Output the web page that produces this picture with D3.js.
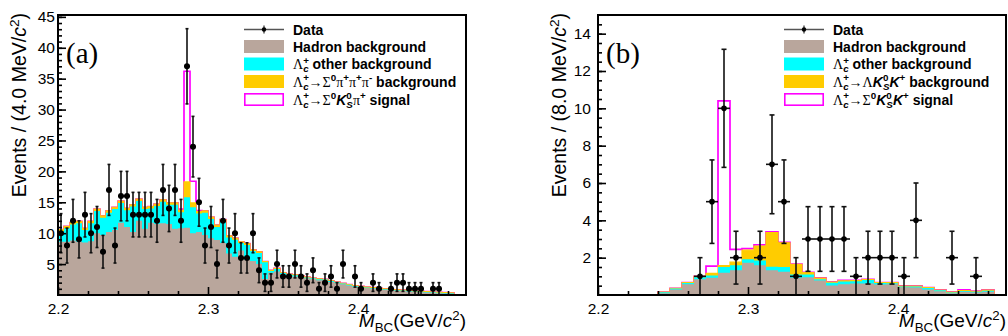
<!DOCTYPE html>
<html>
<head>
<meta charset="utf-8">
<script src="https://cdn.jsdelivr.net/npm/d3@7"></script>
<style>
  body { margin: 0; background: #fff; }
  svg { display: block; }
</style>
</head>
<body>
<svg id="chart" width="1008" height="336"></svg>
<script>
// ---- panel (a): 68 bins of 4 MeV, 2.200 - 2.472 GeV
const dataA = [10, 8, 12, 9, 13, 10, 11, 7, 17, 8, 16, 16, 13, 13, 13, 13, 12, 17, 14, 17,
  12, 37, 24, 15, 8, 11, 5, 12, 8, 10, 6, 6, 10, 4, 2, 2, 5, 3, 3, 5,
  3, 2, 4, 1, 2, 3, 1, 5, 0, 3, 1, 0, 2, 1, 0, 1, 2, 2, 1, 1,
  1, 0, 1, 1, 0, 0, 0, 0];
const hadronA = [8.6, 8.6, 8.8, 8.6, 8.5, 8.7, 10.0, 9.7, 10.2, 10.5, 11.7, 11.0, 10.2, 12.0, 10.7, 11.7, 11.5, 11.6, 11.5, 10.7,
  10.8, 10.9, 10.0, 10.2, 9.7, 9.2, 8.9, 8.4, 6.7, 6.2, 7.2, 5.7, 5.5, 5.0, 2.6, 3.6, 3.8, 3.3, 3.1, 3.0,
  2.9, 2.7, 2.6, 2.4, 2.4, 2.1, 1.95, 1.75, 1.55, 1.35, 1.25, 1.15, 1.05, 0.95, 0.85, 0.75, 0.7, 0.65, 0.55, 0.5,
  0.45, 0.4, 0.35, 0.3, 0.25, 0.2, 0, 0];
const otherA = [1.7, 2.2, 2.6, 3.0, 2.0, 2.9, 3.6, 2.8, 3.1, 3.4, 3.2, 2.7, 4.1, 3.2, 3.2, 2.3, 2.9, 3.5, 3.1, 3.9,
  2.6, 4.9, 4.2, 3.0, 3.6, 3.1, 2.1, 3.5, 2.6, 2.75, 1.2, 2.4, 1.6, 1.8, 2.7, 0.3, 0.4, 0.25, 0.25, 0.2,
  0.15, 0.15, 0.1, 0.15, 0.1, 0.15, 0.1, 0.1, 0.1, 0.1, 0.08, 0.08, 0.08, 0.08, 0.08, 0.08, 0.08, 0.08, 0.08, 0.08,
  0.08, 0.08, 0.08, 0.08, 0.08, 0.08, 0, 0];
const peakA = [0.3, 0.3, 0.3, 0.3, 0.3, 0.3, 0.3, 0.3, 0.3, 0.3, 0.3, 0.3, 0.3, 0.3, 0.3, 0.3, 0.3, 0.3, 0.3, 0.3,
  0.3, 2.5, 0.7, 0.3, 0.3, 0.3, 0.3, 0.3, 0.25, 0.25, 0.2, 0.2, 0.2, 0.2, 0.1, 0.1, 0.1, 0.05, 0.05, 0.05,
  0.05, 0.05, 0.05, 0.05, 0.05, 0.05, 0.05, 0.05, 0.05, 0.05, 0.05, 0.05, 0.05, 0.05, 0.05, 0.05, 0.05, 0.05, 0.05, 0.05,
  0.05, 0.05, 0.05, 0.05, 0.05, 0.05, 0, 0];
const signalA = [0, 0, 0, 0, 0, 0, 0, 0, 0, 0, 0, 0, 0, 0, 0, 0, 0, 0, 0, 0,
  0.2, 17.9, 3.5, 0.15, 0, 0, 0, 0, 0, 0, 0, 0, 0, 0, 0, 0, 0, 0, 0, 0,
  0, 0, 0, 0, 0, 0, 0, 0, 0, 0, 0, 0, 0, 0, 0, 0, 0, 0, 0, 0,
  0, 0, 0, 0, 0, 0, 0, 0];

// ---- panel (b): 34 bins of 8 MeV, 2.200 - 2.472 GeV
const dataB = [0, 0, 0, 0, 0, 0, 0, 0, 1, 5, 10, 2, 0, 2, 7, 5, 1, 3, 3, 3,
  3, 1, 2, 2, 2, 1, 4, 0, 0, 2, 0, 1, 0, 0];
const hadronB = [0, 0, 0, 0, 0, 0.1, 0.3, 0.57, 0.85, 0.92, 1.19, 1.33, 1.73, 1.6, 1.33, 1.25, 0.93, 0.95, 0.78, 0.51,
  0.57, 0.62, 0.62, 0.56, 0.58, 0.42, 0.4, 0.3, 0.2, 0.1, 0.18, 0.14, 0.18, 0];
const otherB = [0, 0, 0, 0, 0, 0.05, 0.05, 0.07, 0.1, 0.13, 0.31, 0.27, 0.19, 0.25, 0.19, 0.25, 0.17, 0.15, 0.07, 0.15,
  0.15, 0.12, 0.18, 0.08, 0.05, 0.04, 0.06, 0.07, 0.05, 0.04, 0.04, 0.04, 0.05, 0];
const peakB = [0, 0, 0, 0, 0, 0, 0.01, 0.02, 0.05, 0.11, 0.08, 0.16, 0.48, 0.77, 1.82, 1.3, 0.54, 0.1, 0.05, 0.03,
  0.04, 0.03, 0.03, 0.02, 0.03, 0.02, 0.02, 0.02, 0.01, 0.02, 0.02, 0.02, 0.03, 0];
const signalB = [0, 0, 0, 0, 0, 0, 0, 0, 0, 0.39, 8.82, 0.68, 0.08, 0.06, 0.04, 0.02, 0.02, 0.02, 0.02, 0.01,
  0.02, 0.01, 0.01, 0.01, 0.01, 0.01, 0.01, 0.01, 0.01, 0.01, 0.03, 0.01, 0.01, 0];

const xTicks = [2.2, 2.3, 2.4];
const xMinor = [2.22, 2.24, 2.26, 2.28, 2.32, 2.34, 2.36, 2.38, 2.42, 2.44, 2.46];
const yTicksA = [5, 10, 15, 20, 25, 30, 35, 40, 45];
const yTicksB = [2, 4, 6, 8, 10, 12, 14];

// legend labels: [text, flags]  g=greek serif, b=bold, i=italic, ^=sup, _=sub, <=stack under previous
const legendA = [
  [['Data', 'b']],
  [['Hadron background', 'b']],
  [['Λ', 'g'], ['+', '^b'], ['c', '_<bi'], [' other background', 'b']],
  [['Λ', 'g'], ['+', '^b'], ['c', '_<bi'], ['→Σ', 'g'], ['0', '^b'], ['π', 'g'], ['+', '^b'], ['π', 'g'], ['+', '^b'],
    ['π', 'g'], ['-', '^b'], [' background', 'b']],
  [['Λ', 'g'], ['+', '^b'], ['c', '_<bi'], ['→Σ', 'g'], ['0', '^b'], ['K', 'bi'], ['0', '^b'], ['S', '_<bi'],
    ['π', 'g'], ['+', '^b'], [' signal', 'b']]
];
const legendB = [
  [['Data', 'b']],
  [['Hadron background', 'b']],
  [['Λ', 'g'], ['+', '^b'], ['c', '_<bi'], [' other background', 'b']],
  [['Λ', 'g'], ['+', '^b'], ['c', '_<bi'], ['→Λ', 'g'], ['K', 'bi'], ['0', '^b'], ['S', '_<bi'], ['K', 'bi'], ['+', '^b'],
    [' background', 'b']],
  [['Λ', 'g'], ['+', '^b'], ['c', '_<bi'], ['→Σ', 'g'], ['0', '^b'], ['K', 'bi'], ['0', '^b'], ['S', '_<bi'],
    ['K', 'bi'], ['+', '^b'], [' signal', 'b']]
];

const SANS = "'Liberation Sans', Arial, Helvetica, sans-serif";
const SERIF = "'Liberation Serif', 'DejaVu Serif', serif";
const BROWN = '#b9a69c', CYAN = '#00ffff', ORANGE = '#ffcc00', MAG = '#ff00ff';

const svg = d3.select('#chart');

function rich(sel, x, y, segs, size) {
  const t = sel.append('text').attr('x', x).attr('y', y).attr('font-size', size)
    .attr('font-family', SANS).attr('fill', '#000');
  let shift = 0, prev = null;
  segs.forEach(([s, f]) => {
    const sub = f.includes('_'), sup = f.includes('^');
    const off = sub ? 0.24 * size : sup ? -0.36 * size : 0;
    const sp = t.append('tspan').text(s).attr('dy', off - shift);
    shift = off;
    if (f.includes('<') && prev) sp.attr('dx', -prev.node().getComputedTextLength());
    sp.attr('font-size', (sub || sup) ? 0.7 * size : size)
      .attr('font-family', f.includes('g') ? SERIF : SANS)
      .attr('font-weight', f.includes('b') ? 'bold' : 'normal')
      .attr('font-style', f.includes('i') ? 'italic' : 'normal');
    prev = sp;
  });
  return t;
}

function panel(o) {
  const x = d3.scaleLinear().domain([2.2, 2.472]).range([o.left, o.left + 408]);
  const y = d3.scaleLinear().domain([0, o.ymax]).range([295, 15]);
  const g = svg.append('g');
  const n = o.data.length, w = 0.272 / n;
  const edges = d3.range(n + 1).map(i => 2.2 + i * w);

  // stacked histogram
  const c1 = o.hadron;
  const c2 = c1.map((v, i) => v + o.other[i]);
  const c3 = c2.map((v, i) => v + o.peak[i]);
  const c4 = c3.map((v, i) => v + o.signal[i]);
  const pts = arr => edges.map((e, i) => [e, arr[Math.min(i, n - 1)]]);
  const area = d3.area().x(d => x(d[0])).y0(y(0)).y1(d => y(d[1])).curve(d3.curveStepAfter);
  const line = d3.line().x(d => x(d[0])).y(d => y(d[1])).curve(d3.curveStepAfter);

  g.append('path').attr('d', line(pts(c4))).attr('fill', 'none')
    .attr('stroke', MAG).attr('stroke-width', 1.7);
  // top fill gets a thin rim of its own colour so the signal outline only peeks out where signal > 0
  g.append('path').attr('d', area(pts(c3))).attr('fill', ORANGE)
    .attr('stroke', ORANGE).attr('stroke-width', 1.2);
  [[c2, CYAN], [c1, BROWN]].forEach(([a, col]) => {
    g.append('path').attr('d', area(pts(a))).attr('fill', col);
  });

  // data points
  const pg = g.append('g').attr('stroke', '#111').attr('stroke-width', 1.6);
  o.data.forEach((v, i) => {
    if (!v) return;
    const cx = x(edges[i] + w / 2), e = Math.sqrt(v);
    pg.append('line').attr('x1', cx).attr('x2', cx).attr('y1', y(v + e)).attr('y2', y(Math.max(0, v - e)));
    pg.append('line').attr('x1', x(edges[i])).attr('x2', x(edges[i + 1])).attr('y1', y(v)).attr('y2', y(v));
    [v + e, v - e].forEach(yy => {
      if (yy <= 0) return;
      pg.append('line').attr('x1', cx - o.cap).attr('x2', cx + o.cap).attr('y1', y(yy)).attr('y2', y(yy));
    });
    pg.append('circle').attr('cx', cx).attr('cy', y(v)).attr('r', o.r).attr('fill', '#000').attr('stroke', 'none');
  });

  // axes (ticks pointing inside)
  const styleAxis = a => {
    a.select('.domain').remove();
    a.selectAll('line').attr('stroke', '#000').attr('stroke-width', 1.6);
    a.selectAll('text').attr('font-family', SANS).attr('font-size', 15.5).attr('fill', '#000');
  };
  g.append('g').attr('transform', 'translate(0,295)')
    .call(d3.axisBottom(x).tickValues(xTicks).tickSize(-8).tickPadding(8).tickFormat(d3.format('.1f')))
    .call(styleAxis);
  g.append('g').attr('transform', 'translate(0,295)')
    .call(d3.axisBottom(x).tickValues(xMinor).tickSize(-4).tickFormat(''))
    .call(styleAxis);
  g.append('g').attr('transform', `translate(${o.left},0)`)
    .call(d3.axisLeft(y).tickValues(o.yTicks).tickSize(-8).tickPadding(o.ypad))
    .call(styleAxis);
  g.append('g').attr('transform', `translate(${o.left},0)`)
    .call(d3.axisLeft(y).tickValues(d3.range(o.minorStep, o.ymax, o.minorStep)).tickSize(-4).tickFormat(''))
    .call(styleAxis);

  // frame
  g.append('rect').attr('x', o.left).attr('y', 15).attr('width', 408).attr('height', 280)
    .attr('fill', 'none').attr('stroke', '#000').attr('stroke-width', 2);

  // panel label
  g.append('text').attr('x', o.left + 8).attr('y', 63).attr('font-family', SERIF)
    .attr('font-size', 29).text(o.tag);

  // axis titles
  rich(g, o.left + 408, 327, [['M', 'i'], ['BC', '_'], ['(GeV/', ''], ['c', 'i'], ['2', '^'], [')', '']], 19)
    .attr('text-anchor', 'end');
  rich(g, 0, 0, [[`Events / (${o.bw} MeV/`, ''], ['c', 'i'], ['2', '^'], [')', '']], 19.5)
    .attr('text-anchor', 'end')
    .attr('transform', `translate(${o.left - 32},13) rotate(-90)`);

  // legend
  const rows = [29.5, 46.5, 64, 81.5, 99.5];
  const lg = g.append('g');
  const lx = o.legX;
  lg.append('line').attr('x1', lx).attr('x2', lx + 40).attr('y1', rows[0]).attr('y2', rows[0])
    .attr('stroke', '#555').attr('stroke-width', 1.5);
  lg.append('line').attr('x1', lx + 20).attr('x2', lx + 20).attr('y1', rows[0] - 4).attr('y2', rows[0] + 4)
    .attr('stroke', '#555').attr('stroke-width', 1.5);
  lg.append('circle').attr('cx', lx + 20).attr('cy', rows[0]).attr('r', 2.2).attr('fill', '#000');
  [BROWN, CYAN, ORANGE].forEach((c, i) => {
    lg.append('rect').attr('x', lx).attr('y', rows[i + 1] - 6.5).attr('width', 40).attr('height', 13).attr('fill', c);
  });
  lg.append('rect').attr('x', lx + 0.8).attr('y', rows[4] - 5.7).attr('width', 38.4).attr('height', 11.4)
    .attr('fill', '#fff').attr('stroke', MAG).attr('stroke-width', 1.6);
  o.legend.forEach((segs, i) => rich(lg, lx + 49, rows[i] + 5, segs, 14));
}

panel({ left: 58, ymax: 45.3, data: dataA, hadron: hadronA, other: otherA, peak: peakA, signal: signalA,
  yTicks: yTicksA, minorStep: 1, ypad: 3, r: 3, cap: 1.5, tag: '(a)', bw: '4.0', legX: 244, legend: legendA });
panel({ left: 598, ymax: 15, data: dataB, hadron: hadronB, other: otherB, peak: peakB, signal: signalB,
  yTicks: yTicksB, minorStep: 0.5, ypad: 7, r: 2.8, cap: 2.5, tag: '(b)', bw: '8.0', legX: 784, legend: legendB });
</script>
</body>
</html>
